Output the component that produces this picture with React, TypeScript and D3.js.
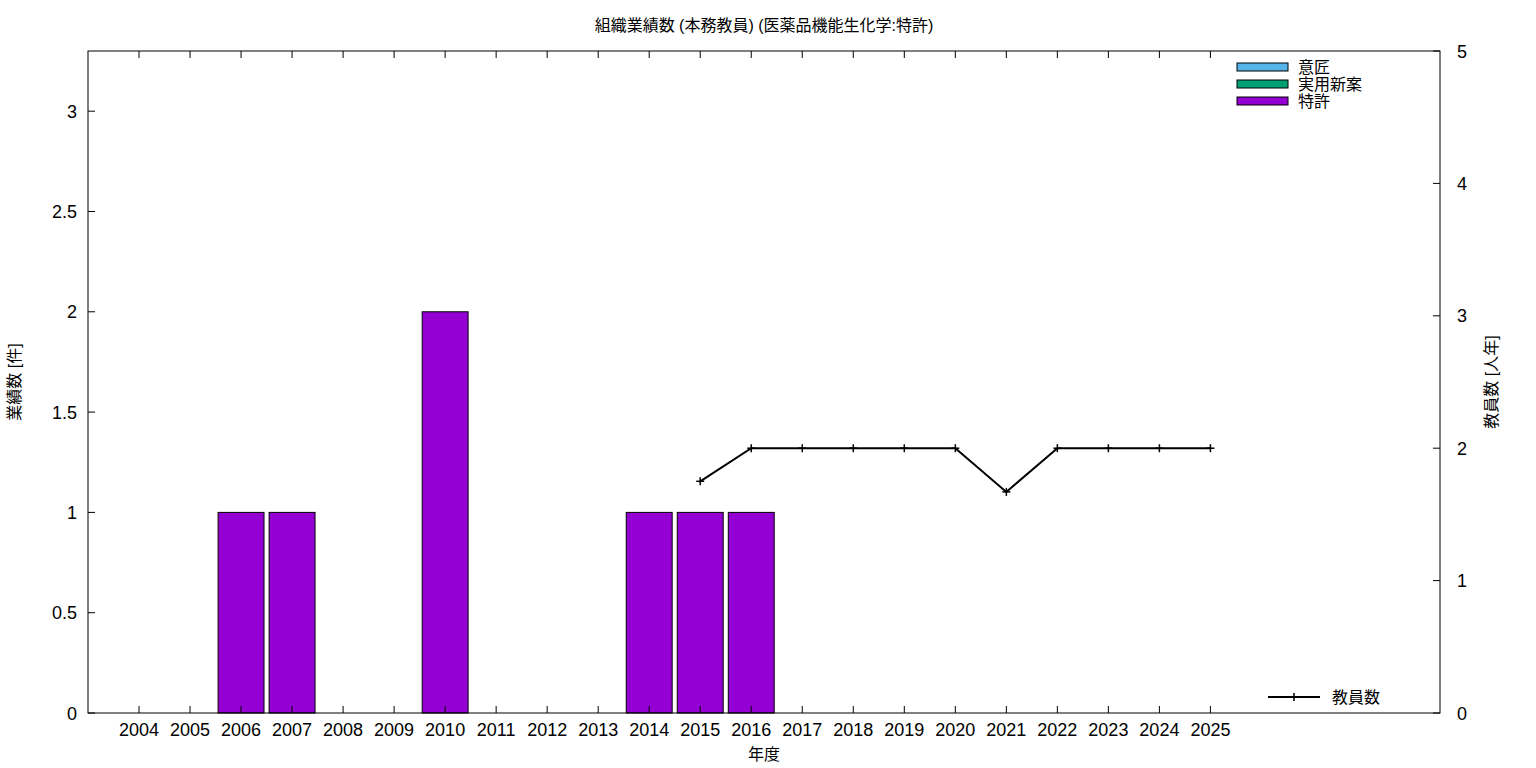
import React from "react";
import * as d3 from "d3";

const years = ["2004","2005","2006","2007","2008","2009","2010","2011","2012","2013","2014","2015","2016","2017","2018","2019","2020","2021","2022","2023","2024","2025"];
const design = [0,0,0,0,0,0,0,0,0,0,0,0,0,0,0,0,0,0,0,0,0,0];
const utility = [0,0,0,0,0,0,0,0,0,0,0,0,0,0,0,0,0,0,0,0,0,0];
const patent = [0,0,1,1,0,0,2,0,0,0,1,1,1,0,0,0,0,0,0,0,0,0];
const staffYears = ["2015","2016","2017","2018","2019","2020","2021","2022","2023","2024","2025"];
const staff = [1.75,2,2,2,2,2,1.67,2,2,2,2];
const leftTicks = [0,0.5,1,1.5,2,2.5,3];
const rightTicks = [0,1,2,3,4,5];
const seriesNames = ["意匠","実用新案","特許"];
const seriesColors = ["#56b4e9","#009e73","#9400d3"];

const W = 1536, H = 768;
const L = 88, R = 1440, T = 51, B = 713;
const FONT = "'Liberation Sans', 'Noto Sans CJK JP', sans-serif";

export default function App() {
  const x = d3.scaleLinear().domain([-1, 25.5]).range([L, R]);
  const y = d3.scaleLinear().domain([0, 3.3]).range([B, T]);
  const y2 = d3.scaleLinear().domain([0, 5]).range([B, T]);
  const bw = x(0.9) - x(0);
  const line = d3.line<number>()
    .x((_, i) => x(years.indexOf(staffYears[i])))
    .y((d) => y2(d));
  const stacks = years.map((_, i) => {
    const vals = [design[i], utility[i], patent[i]];
    let acc = 0;
    return vals.map((v, k) => {
      const y0 = acc; acc += v;
      return { v, y0, y1: acc, k };
    });
  });
  const tick = 7;
  return (
    <svg width={W} height={H} style={{ position: "absolute", left: 0, top: 0, background: "#fff" }} fontFamily={FONT}>
      <rect x={0} y={0} width={W} height={H} fill="#fff" />
      <text x={764} y={31} textAnchor="middle" fontSize={16}>組織業績数 (本務教員) (医薬品機能生化学:特許)</text>
      {stacks.map((st, i) => st.filter(s => s.v > 0).map(s => (
        <rect key={`${i}-${s.k}`} x={x(i) - bw / 2} y={y(s.y1)} width={bw} height={y(s.y0) - y(s.y1)}
          fill={seriesColors[s.k]} stroke="#000" strokeWidth={1} />
      )))}
      <rect x={L} y={T} width={R - L} height={B - T} fill="none" stroke="#000" strokeWidth={1} />
      {leftTicks.map(t => (
        <g key={`l${t}`}>
          <line x1={L} x2={L + tick} y1={y(t)} y2={y(t)} stroke="#000" />
          <text x={77} y={y(t) + 6.5} textAnchor="end" fontSize={18}>{t}</text>
        </g>
      ))}
      {rightTicks.map(t => (
        <g key={`r${t}`}>
          <line x1={R - tick} x2={R} y1={y2(t)} y2={y2(t)} stroke="#000" />
          <text x={1457} y={y2(t) + 6.5} textAnchor="start" fontSize={18}>{t}</text>
        </g>
      ))}
      {years.map((yr, i) => (
        <g key={yr}>
          <line x1={x(i)} x2={x(i)} y1={B} y2={B - tick} stroke="#000" />
          <line x1={x(i)} x2={x(i)} y1={T} y2={T + tick} stroke="#000" />
          <text x={x(i)} y={736} textAnchor="middle" fontSize={18}>{yr}</text>
        </g>
      ))}
      <text x={764} y={760} textAnchor="middle" fontSize={16}>年度</text>
      <text transform="translate(20,382) rotate(-90)" textAnchor="middle" fontSize={16}>業績数 [件]</text>
      <text transform="translate(1497,382) rotate(-90)" textAnchor="middle" fontSize={16}>教員数 [人年]</text>
      <path d={line(staff) || ""} fill="none" stroke="#000" strokeWidth={2} />
      {staff.map((v, i) => {
        const cx = x(years.indexOf(staffYears[i])), cy = y2(v);
        return (
          <g key={`p${i}`} stroke="#000" strokeWidth={1.5}>
            <line x1={cx - 4} x2={cx + 4} y1={cy} y2={cy} />
            <line x1={cx} x2={cx} y1={cy - 4} y2={cy + 4} />
          </g>
        );
      })}
      {seriesNames.map((n, k) => (
        <g key={n}>
          <rect x={1237} y={63 + k * 17} width={51} height={8} fill={seriesColors[k]} stroke="#000" strokeWidth={1} />
          <text x={1298} y={73 + k * 17} fontSize={16}>{n}</text>
        </g>
      ))}
      <g stroke="#000" strokeWidth={2}>
        <line x1={1268} x2={1320} y1={697} y2={697} />
        <line x1={1294} x2={1294} y1={693} y2={701} strokeWidth={1.5} />
      </g>
      <text x={1332} y={703} fontSize={16}>教員数</text>
    </svg>
  );
}
